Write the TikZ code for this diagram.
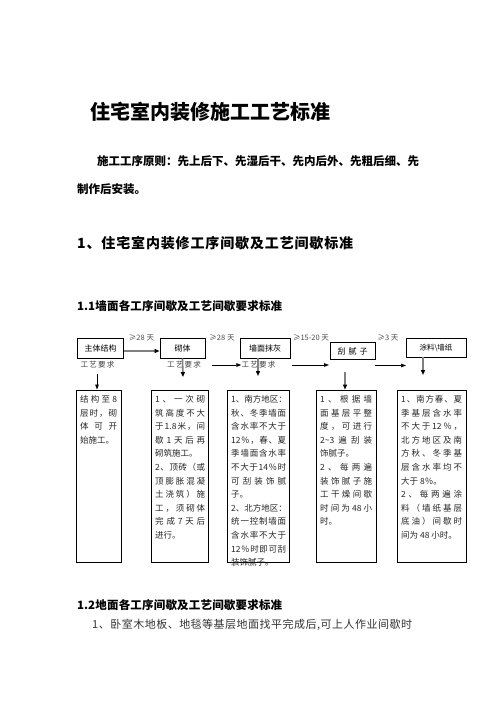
\documentclass[tikz,border=0pt]{standalone}
\usepackage{fontspec}
\setmainfont{Noto Sans CJK SC}
\usetikzlibrary{arrows.meta}
\def\sp#1{\spA#1\endsp}
\def\spA#1#2\endsp{#1\if\relax\detokenize{#2}\relax\else\hfill\spA#2\endsp\fi}
\newcommand\J[1]{\hbox to \bw{\sp{#1}}}
\newcommand\E[1]{\hbox to \bw{#1\hfil}}
\newcommand\blk[2]{\vtop{\baselineskip=13.6pt\lineskiplimit=-20pt\def\bw{#1}#2}}
\tikzset{
  topbox/.style={draw, line width=0.9pt, inner sep=0pt, font=\fontsize{8}{8}\selectfont},
  lowbox/.style={draw, line width=0.9pt, inner sep=0pt},
  dlab/.style={font=\fontsize{7.5}{7.5}\selectfont, text=black!70, inner sep=0pt},
  req/.style={font=\fontsize{7.5}{7.5}\selectfont, text=black!75, inner sep=0pt},
  garr/.style={draw=black!50, line width=1.6pt, -{Triangle[length=5pt,width=4pt,color=black]}},
  barr/.style={draw=black, line width=0.7pt, -{Triangle[length=5pt,width=3.5pt]}},
  body/.style={anchor=base west, inner sep=0pt, font=\fontsize{8.5}{13.6}\selectfont, text=black!85},
  head/.style={anchor=west, inner sep=0pt},
}
\begin{document}
\begin{tikzpicture}[x=1pt,y=-1pt]
\fill[white] (0,0) rectangle (496,702);
\useasboundingbox (0,0) rectangle (496,702);

% headings
\node[head, font=\fontsize{20}{24}\selectfont\bfseries] (title) at (90,112) {住宅室内装修施工工艺标准};
\node[head, font=\fontsize{11.5}{12}\selectfont\bfseries] (pr1) at (97,161) {施工工序原则：先上后下、先湿后干、先内后外、先粗后细、先};
\node[head, font=\fontsize{11.5}{12}\selectfont\bfseries] (pr2) at (77,189) {制作后安装。};
\node[head, font=\fontsize{14}{14}\selectfont\bfseries] (h1) at (77,243) {\hbox to 276pt{\sp{1、住宅室内装修工序间歇及工艺间歇标准}}};
\node[head, font=\fontsize{11.5}{12}\selectfont\bfseries] (h11) at (77,306) {\hbox to 205pt{\sp{{1.1}墙面各工序间歇及工艺间歇要求标准}}};
\node[head, font=\fontsize{11.5}{12}\selectfont\bfseries] (h12) at (77,605) {\hbox to 205pt{\sp{{1.2}地面各工序间歇及工艺间歇要求标准}}};
\node[head, font=\fontsize{11}{12}\selectfont, text=black!80] (l1) at (92,625) {\hbox to 320pt{\sp{1、卧室木地板、地毯等基层地面找平完成后,可上人作业间歇时}}};

% top row boxes
\node[topbox, minimum width=46pt, minimum height=20pt] (zt) at (100.5,348) {主体结构};
\node[topbox, minimum width=45pt, minimum height=20pt] (qt) at (182.5,348) {砌体};
\node[topbox, minimum width=50pt, minimum height=20pt] (mh) at (265,348) {墙面抹灰};
\node[topbox, minimum width=45pt, minimum height=17pt] (gn) at (352.5,351) {\hbox to 30pt{\sp{刮腻子}}};
\node[topbox, minimum width=60pt, minimum height=19pt, font=\fontsize{7.5}{8}\selectfont] (tl) at (436,347.5) {涂料\textbackslash 墙纸};

% interval labels
\node[dlab] (d1) at (141.5,338) {≥28 天};
\node[dlab] (d2) at (222,338) {≥28 天};
\node[dlab] (d3) at (311,338) {≥15-20 天};
\node[dlab] (d4) at (388,338) {≥3 天};

% requirement labels
\node[req] (gy1) at (97.5,365) {\hbox to 34pt{\sp{工艺要求}}};
\node[req] (gy2) at (184,365) {\hbox to 34pt{\sp{工艺要求}}};
\node[req] (gy3) at (258.5,365) {\hbox to 34pt{\sp{工艺要求}}};

% lower boxes
\node[lowbox, minimum width=45pt, minimum height=172pt] (b1) at (98.5,476) {};
\node[lowbox, minimum width=57pt, minimum height=172pt] (b2) at (179.5,476) {};
\node[lowbox, minimum width=62pt, minimum height=172pt] (b3) at (258,476) {};
\node[lowbox, minimum width=60pt, minimum height=172pt] (b4) at (346,476) {};
\node[lowbox, minimum width=69pt, minimum height=172pt] (b5) at (431.5,476) {};

\node[body] (t1) at (80,402.4) {\blk{37pt}{\J{结构至8}\J{层时，砌}\J{体可开}\E{始施工。}}};
\node[body] (t2) at (155,402.4) {\blk{50pt}{\J{1、一次砌}\J{筑高度不大}\J{于{1.8}米，间}\J{歇1天后再}\E{砌筑施工。}\J{2、顶砖（或}\J{顶膨胀混凝}\J{土浇筑）施}\J{工，须砌体}\J{完成7天后}\E{进行。}}};
\node[body] (t3) at (231,402.4) {\blk{55pt}{\J{1、南方地区：}\J{秋、冬季墙面}\J{含水率不大于}\J{{12}％，春、夏}\J{季墙面含水率}\J{不大于{14}％时}\J{可刮装饰腻}\E{子。}\J{2、北方地区：}\J{统一控制墙面}\J{含水率不大于}\J{{12}％时即可刮}\E{装饰腻子。}}};
\node[body] (t4) at (320,402.4) {\blk{52pt}{\J{1、根据墙}\J{面基层平整}\J{度，可进行}\J{{2\textasciitilde 3}遍刮装}\E{饰腻子。}\J{2、每两遍}\J{装饰腻子施}\J{工干燥间歇}\J{时间为{48}小}\E{时。}}};
\node[body] (t5) at (401,402.4) {\blk{61pt}{\J{1、南方春、夏}\J{季基层含水率}\J{不大于{12}％，}\J{北方地区及南}\J{方秋、冬季基}\J{层含水率均不}\E{大于 8％。}\J{2、每两遍涂}\J{料（墙纸基层}\J{底油）间歇时}\E{间为 48 小时。}}};

% connector coordinates
\coordinate (cq) at (183,377);
\coordinate (cm) at (258,376);
\coordinate (ct) at (423,375);
\coordinate (cg) at (345,372);
\coordinate (cz) at (97,374);
\coordinate (h1s) at (212,365);
\coordinate (h2s) at (292,365);
\coordinate (h2e) at (329,365);
\coordinate (h3s) at (375,365.5);
\coordinate (h3e) at (406,365.5);

% connectors
\draw[garr] ([yshift=-3pt]zt.east) -- ([yshift=-3pt]qt.west);
\draw[garr] (qt.south) -- (cq);
\draw[garr] (cm |- mh.south) -- (cm);
\draw[garr] (ct |- tl.south) -- (ct);
\draw[garr] (cg) -- (cg |- b4.north);
\draw[barr] (cz) -- (cz |- b1.north);
\draw[barr] (h1s) -- (gy3.west);
\draw[barr] (h2s) -- (h2e);
\draw[barr] (h3s) -- (h3e);
\end{tikzpicture}
\end{document}
